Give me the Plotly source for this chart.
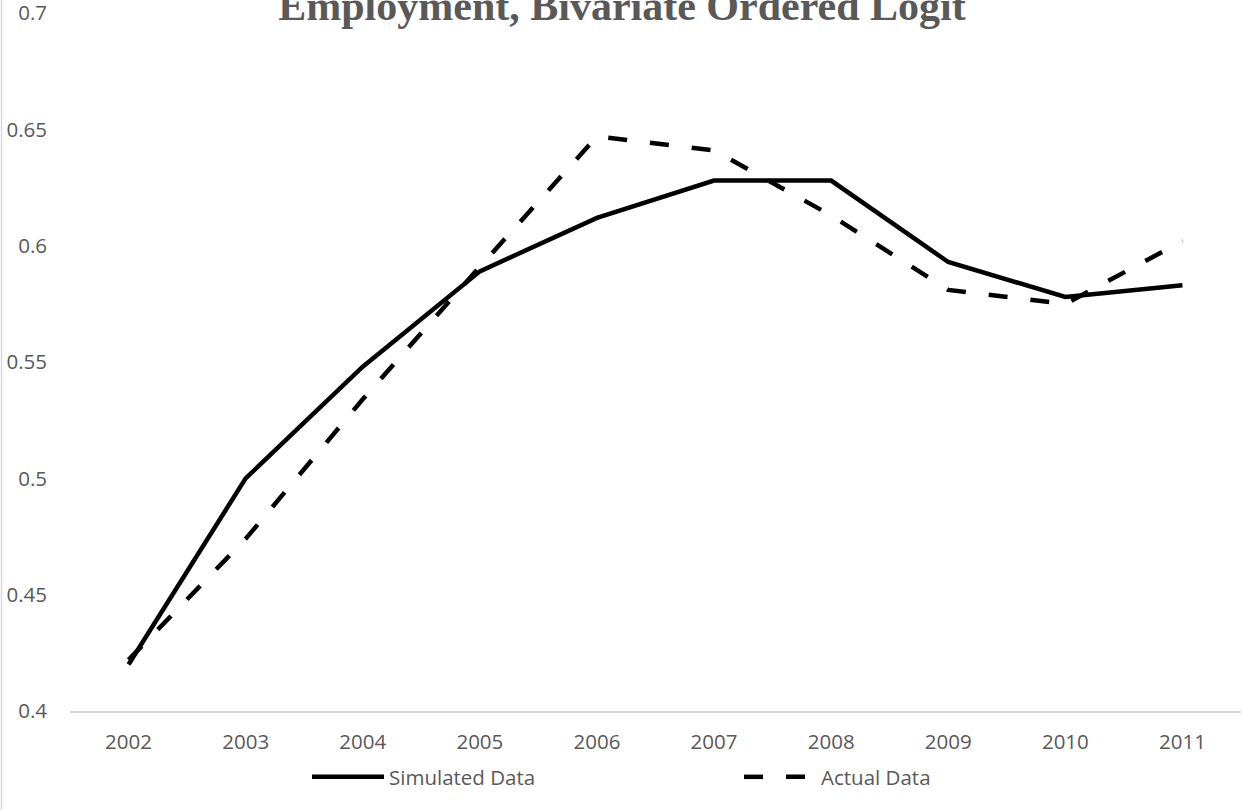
import plotly.graph_objects as go

# Employment rate by year
years = ["2002", "2003", "2004", "2005", "2006", "2007", "2008", "2009", "2010", "2011"]
simulated = [0.420, 0.500, 0.548, 0.589, 0.612, 0.628, 0.628, 0.593, 0.578, 0.583]
actual = [0.422, 0.474, 0.534, 0.591, 0.647, 0.641, 0.613, 0.581, 0.575, 0.602]

y_ticks = [0.4, 0.45, 0.5, 0.55, 0.6, 0.65, 0.7]
y_tick_text = ["0.4", "0.45", "0.5", "0.55", "0.6", "0.65", "0.7"]

W, H = 1244, 810
ML, MR, MT, MB = 70, 3, 13, 99
PW, PH = W - ML - MR, H - MT - MB

text_font = dict(family="Open Sans", size=20.5, color="#595959")

fig = go.Figure()
fig.add_trace(go.Scatter(
    x=years, y=simulated, mode="lines", name="Simulated Data",
    line=dict(color="#000000", width=4.5),
))
fig.add_trace(go.Scatter(
    x=years, y=actual, mode="lines", name="Actual Data",
    line=dict(color="#000000", width=4.5, dash="19px,23px"),
))

# chart-area border on the left edge
fig.add_shape(
    type="line", xref="paper", yref="paper",
    x0=-(ML - 1.5) / PW, x1=-(ML - 1.5) / PW,
    y0=-MB / PH, y1=1 + MT / PH,
    line=dict(color="#D9D9D9", width=1.5),
)

fig.update_layout(
    width=W, height=H,
    margin=dict(l=ML, r=MR, t=MT, b=MB, pad=0, autoexpand=False),
    paper_bgcolor="white", plot_bgcolor="white",
    title=dict(
        text="<b>Employment, Bivariate Ordered Logit</b>",
        font=dict(family="Liberation Serif", size=42, color="#595959"),
        x=0.5, xref="container", xanchor="center",
        y=1 - 20 / H, yref="container", yanchor="bottom",
    ),
    showlegend=True,
    legend=dict(
        orientation="h",
        x=(739 - ML) / PW, xanchor="center", xref="paper",
        y=-(777 - (H - MB)) / PH, yanchor="middle", yref="paper",
        font=text_font, itemwidth=72, entrywidth=345,
        bgcolor="rgba(0,0,0,0)",
    ),
    xaxis=dict(
        type="category", range=[-0.5, 9.5], automargin=False,
        showline=True, linecolor="#D9D9D9", linewidth=1.5,
        showgrid=False, zeroline=False, ticks="",
        tickfont=text_font, ticklabelstandoff=12,
    ),
    yaxis=dict(
        range=[0.4, 0.70005], tickvals=y_ticks, ticktext=y_tick_text,
        automargin=False,
        showline=False, showgrid=False, zeroline=False, ticks="",
        tickfont=text_font, ticklabelstandoff=22,
        ticklabeloverflow="allow",
    ),
)

fig.write_html("out.html")
